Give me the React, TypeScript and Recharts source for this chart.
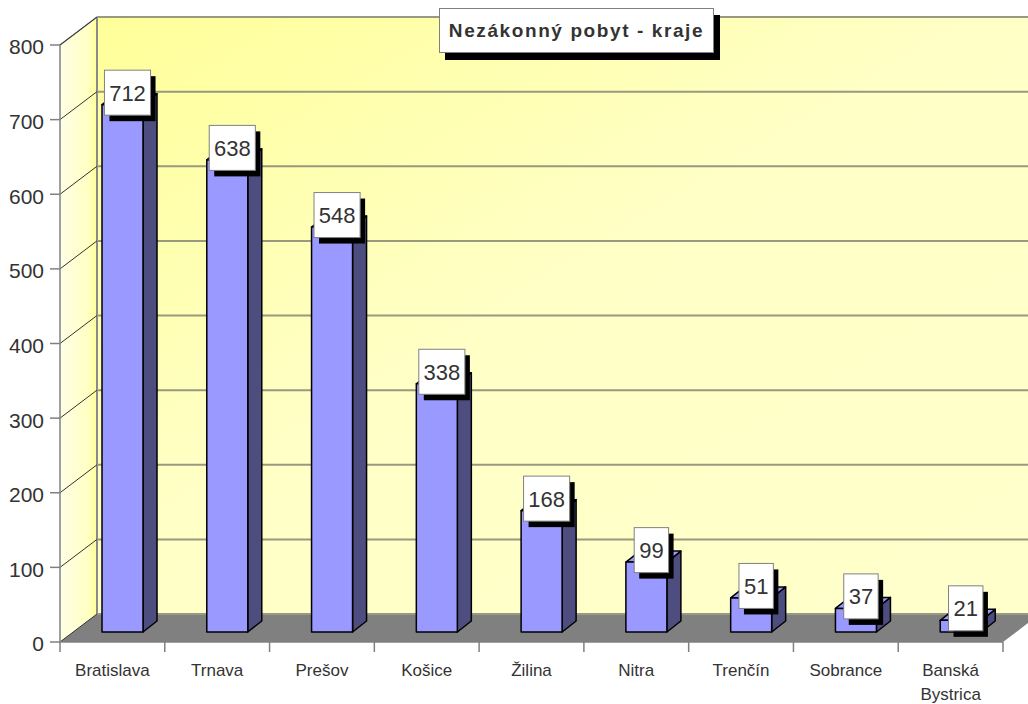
import React from 'react';
import {
  BarChart,
  Bar,
  XAxis,
  YAxis,
  CartesianGrid,
  ReferenceArea,
  LabelList,
} from 'recharts';

const categories = [
  'Bratislava',
  'Trnava',
  'Prešov',
  'Košice',
  'Žilina',
  'Nitra',
  'Trenčín',
  'Sobrance',
  'Banská Bystrica',
];
const values = [712, 638, 548, 338, 168, 99, 51, 37, 21];
const yTicks = [0, 100, 200, 300, 400, 500, 600, 700, 800];
const title = 'Nezákonný pobyt - kraje';

const data = categories.map((name, i) => ({ name, value: values[i] }));

const FONT = '"Liberation Sans", Arial, sans-serif';
const DX = 37; // depth of the chart box
const DY = -28;
const BAR_DX = 10; // bar position inside depth
const BAR_DY = -10;
const BD_X = 14; // bar depth
const BD_Y = -11;

const Frame = (props: any) => {
  const { x, y, width, height } = props;
  const x0 = x;
  const x1 = x + width;
  const yTop = y;
  const yBot = y + height;
  return (
    <g>
      <defs>
        <linearGradient id="backWall" x1="0" y1="0" x2="1" y2="1">
          <stop offset="0" stopColor="#FFFF99" />
          <stop offset="0.45" stopColor="#FFFFC6" />
          <stop offset="1" stopColor="#FFFFCC" />
        </linearGradient>
        <linearGradient id="sideWall" x1="0" y1="0" x2="1" y2="0">
          <stop offset="0" stopColor="#FFFFE6" />
          <stop offset="0.75" stopColor="#FFFFC4" />
          <stop offset="1" stopColor="#FFFF99" />
        </linearGradient>
      </defs>
      <rect
        x={x0 + DX}
        y={yTop + DY}
        width={width + 40}
        height={height}
        fill="url(#backWall)"
      />
      <polygon
        points={`${x0},${yTop} ${x0 + DX},${yTop + DY} ${x0 + DX},${yBot + DY} ${x0},${yBot}`}
        fill="url(#sideWall)"
      />
      <polygon
        points={`${x0},${yBot} ${x0 + DX},${yBot + DY} ${x1 + DX},${yBot + DY} ${x1},${yBot}`}
        fill="#808080"
      />
      <line x1={x0 + DX} y1={yTop + DY} x2={x1 + DX + 20} y2={yTop + DY} stroke="#9a9a80" strokeWidth={2} />
      <line x1={x0 + DX} y1={yTop + DY} x2={x0 + DX} y2={yBot + DY} stroke="#8a8a8a" strokeWidth={2} />
      <line x1={x0} y1={yTop} x2={x0 + DX} y2={yTop + DY} stroke="#808080" strokeWidth={1.5} />
    </g>
  );
};

const gridLine = (p: any) => {
  const { x1, x2, y1, key } = p;
  return (
    <g key={key}>
      <line x1={x1 + DX} y1={y1 + DY} x2={x2 + DX + 20} y2={y1 + DY} stroke="#999980" strokeWidth={2} />
      <line x1={x1} y1={y1} x2={x1 + DX} y2={y1 + DY} stroke="#333333" strokeWidth={1} />
    </g>
  );
};

const Bar3D = (props: any) => {
  const { x, y, width, height } = props;
  if (width == null || height == null) return null;
  const fx = x + BAR_DX;
  const fyTop = y + BAR_DY + 4;
  const fyBot = y + height + BAR_DY;
  const w = width;
  return (
    <g stroke="#000" strokeWidth={1.5} strokeLinejoin="round">
      <polygon
        points={`${fx + w},${fyTop} ${fx + w + BD_X},${fyTop + BD_Y} ${fx + w + BD_X},${fyBot + BD_Y} ${fx + w},${fyBot}`}
        fill="#4D4D80"
      />
      <polygon
        points={`${fx},${fyTop} ${fx + BD_X},${fyTop + BD_Y} ${fx + w + BD_X},${fyTop + BD_Y} ${fx + w},${fyTop}`}
        fill="#9999FF"
      />
      <rect x={fx} y={fyTop} width={w} height={Math.max(0, fyBot - fyTop)} fill="#9999FF" />
    </g>
  );
};

const ValueLabel = (props: any) => {
  const { x, y, width, value } = props;
  const s = String(value);
  const cx = x + BAR_DX + width / 2 + 5;
  const cy = y + BAR_DY + 4 - 12;
  const bw = s.length * 11.7 + 11;
  const bh = 45;
  return (
    <g>
      <rect x={cx - bw / 2 + 5} y={cy - bh / 2 + 6} width={bw} height={bh} fill="#000" />
      <rect x={cx - bw / 2} y={cy - bh / 2} width={bw} height={bh} fill="#fff" stroke="#808080" strokeWidth={1} />
      <text x={cx} y={cy + 8} textAnchor="middle" fontSize={22} fill="#333" fontFamily={FONT}>
        {s}
      </text>
    </g>
  );
};

const XTick = (props: any) => {
  const { x, y, payload, index } = props;
  const off = payload && payload.offset != null ? payload.offset : 0;
  const words = String(payload.value).split(' ');
  const isLast = index === categories.length - 1;
  return (
    <g>
      <line x1={x - off} y1={y} x2={x - off} y2={y + 10} stroke="#808080" strokeWidth={1.5} />
      {isLast && (
        <line x1={x + off} y1={y} x2={x + off} y2={y + 10} stroke="#808080" strokeWidth={1.5} />
      )}
      <text textAnchor="middle" fontSize={17} fill="#333" fontFamily={FONT}>
        {words.map((w, i) => (
          <tspan key={i} x={x} y={y + 34 + i * 24}>
            {w}
          </tspan>
        ))}
      </text>
    </g>
  );
};

export default function App() {
  return (
    <div style={{ position: 'absolute', left: 0, top: 0, width: 1028, height: 704, background: '#fff' }}>
      <BarChart
        width={1028}
        height={704}
        data={data}
        margin={{ top: 45, right: 25, bottom: 0, left: 0 }}
      >
        <ReferenceArea
          x1={categories[0]}
          x2={categories[categories.length - 1]}
          y1={0}
          y2={800}
          shape={<Frame />}
          ifOverflow="visible"
          zIndex={-200}
          fill="none"
          stroke="none"
        />
        <CartesianGrid horizontal={gridLine} vertical={false} />
        <XAxis
          dataKey="name"
          height={62}
          interval={0}
          tickLine={false}
          tickSize={0}
          tickMargin={0}
          axisLine={{ stroke: '#808080', strokeWidth: 1.5 }}
          tick={<XTick />}
        />
        <YAxis
          width={60}
          domain={[0, 800]}
          ticks={yTicks}
          interval={0}
          tickSize={10}
          tickMargin={6}
          axisLine={{ stroke: '#808080', strokeWidth: 1.5 }}
          tickLine={{ stroke: '#808080', strokeWidth: 1.5 }}
          tick={{ fontSize: 21, fill: '#333', fontFamily: FONT, dy: 2 }}
        />
        <Bar dataKey="value" barSize={41} shape={<Bar3D />} isAnimationActive={false}>
          <LabelList dataKey="value" content={<ValueLabel />} />
        </Bar>
      </BarChart>
      <div
        style={{
          position: 'absolute',
          left: 439,
          top: 8,
          width: 273,
          height: 43,
          background: '#fff',
          border: '1px solid #808080',
          boxShadow: '6px 7px 0 #000',
          display: 'flex',
          alignItems: 'center',
          justifyContent: 'center',
          fontFamily: FONT,
          fontWeight: 'bold',
          fontSize: 19,
          letterSpacing: 1.6,
          color: '#333',
          whiteSpace: 'nowrap',
        }}
      >
        {title}
      </div>
    </div>
  );
}
